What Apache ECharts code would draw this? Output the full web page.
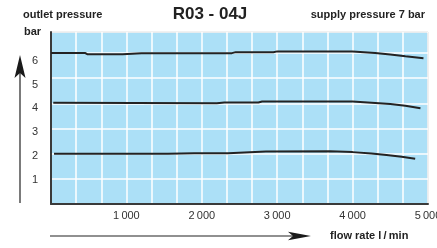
<!DOCTYPE html>
<html><head><meta charset="utf-8">
<script src="https://cdn.jsdelivr.net/npm/echarts@6/dist/echarts.min.js"></script>
<style>html,body{margin:0;padding:0;background:#fff}#c{width:437px;height:248px}</style>
</head><body><div id="c"></div>
<script>
// flow rate (l/min) and outlet pressure (bar)
const topFlow = [0, 450, 480, 950, 1200, 2400, 2450, 2950, 3000, 4000, 4300, 4500, 4700, 4940];
const topBar  = [6.0, 6.0, 5.95, 5.95, 5.99, 5.99, 6.03, 6.03, 6.06, 6.06, 6.0, 5.94, 5.87, 5.79];
const midFlow = [30, 2200, 2300, 2750, 2800, 4000, 4250, 4500, 4700, 4900];
const midBar  = [4.02, 4.0, 4.03, 4.03, 4.07, 4.07, 4.02, 3.97, 3.9, 3.8];
const lowFlow = [40, 1550, 1900, 2350, 2850, 3700, 4000, 4250, 4450, 4650, 4830];
const lowBar  = [2.0, 2.0, 2.02, 2.02, 2.08, 2.09, 2.06, 2.01, 1.95, 1.88, 1.8];
const xTicks = [1000, 2000, 3000, 4000, 5000];
const yTicks = [1, 2, 3, 4, 5, 6];

const title = 'R03 - 04J';
const yName1 = 'outlet pressure';
const yName2 = 'bar';
const subTitle = 'supply pressure 7 bar';
const xName = 'flow rate l\u2009/\u2009min';

const FONT = '"Liberation Sans", Arial, sans-serif';
const pair = (xs, ys) => xs.map((x, i) => [x, ys[i]]);
const fmtK = v => String(v).replace(/(\d)(\d{3})$/, '$1\u2009$2');

const chart = echarts.init(document.getElementById('c'), null, {renderer: 'canvas'});
const lineStyle = {color: '#232323', width: 2};
chart.setOption({
  animation: false,
  backgroundColor: '#ffffff',
  grid: {left: 51, right: 9, top: 32, bottom: 44, show: true, outerBoundsMode: 'none', containLabel: false,
         backgroundColor: '#ace0f7', borderColor: '#8a8a8a', borderWidth: 1},
  xAxis: {
    type: 'value', min: 0, max: 5000, interval: 1000,
    axisLine: {show: true, onZero: false, lineStyle: {color: '#3a3a3a', width: 2}},
    axisTick: {show: false},
    minorTick: {show: false, splitNumber: 3},
    splitLine: {show: true, lineStyle: {color: '#ffffff', width: 1.5}},
    minorSplitLine: {show: true, lineStyle: {color: '#ffffff', width: 1.5}},
    axisLabel: {
      margin: 6, color: '#333', fontSize: 11, fontFamily: FONT,
      showMinLabel: false, hideOverlap: false,
      formatter: v => xTicks.indexOf(v) >= 0 ? fmtK(v) : ''
    }
  },
  yAxis: [{
    type: 'value', min: 0, max: 6.83, interval: 1,
    axisLine: {show: true, onZero: false, lineStyle: {color: '#3a3a3a', width: 2}},
    axisTick: {show: false},
    splitLine: {show: true, lineStyle: {color: '#ffffff', width: 1.5}},
    axisLabel: {show: false}
  }, {
    type: 'value', min: 0, max: 7.2, interval: 1, position: 'left',
    axisLine: {show: false}, axisTick: {show: false}, splitLine: {show: false},
    axisLabel: {
      margin: 13, color: '#333', fontSize: 11, fontFamily: FONT,
      formatter: v => yTicks.indexOf(v) >= 0 ? String(v) : ''
    }
  }],
  series: [
    {type: 'line', data: pair(topFlow, topBar), symbol: 'none', lineStyle},
    {type: 'line', data: pair(midFlow, midBar), symbol: 'none', lineStyle},
    {type: 'line', data: pair(lowFlow, lowBar), symbol: 'none', lineStyle}
  ],
  graphic: [
    {type: 'line', shape: {x1: 20, y1: 203, x2: 20, y2: 70}, style: {stroke: '#222', lineWidth: 1.2}},
    {type: 'polygon', shape: {points: [[20, 55], [25.5, 78], [20, 73], [14.5, 78]]}, style: {fill: '#1a1a1a'}},
    {type: 'line', shape: {x1: 50, y1: 236, x2: 296, y2: 236}, style: {stroke: '#222', lineWidth: 1.2}},
    {type: 'polygon', shape: {points: [[311, 236], [288, 231.8], [293, 236], [288, 240.2]]}, style: {fill: '#1a1a1a'}},
    {type: 'text', x: 23, y: 15, style: {text: yName1, font: 'bold 11px ' + FONT, fill: '#222', textVerticalAlign: 'middle'}},
    {type: 'text', x: 24, y: 32, style: {text: yName2, font: 'bold 11px ' + FONT, fill: '#222', textVerticalAlign: 'middle'}},
    {type: 'text', x: 210, y: 14, style: {text: title, font: 'bold 17px ' + FONT, fill: '#222', textAlign: 'center', textVerticalAlign: 'middle'}},
    {type: 'text', x: 425, y: 15, style: {text: subTitle, font: 'bold 11px ' + FONT, fill: '#222', textAlign: 'right', textVerticalAlign: 'middle'}},
    {type: 'text', x: 330, y: 236, style: {text: xName, font: 'bold 11px ' + FONT, fill: '#222', textVerticalAlign: 'middle'}}
  ]
});
</script></body></html>
